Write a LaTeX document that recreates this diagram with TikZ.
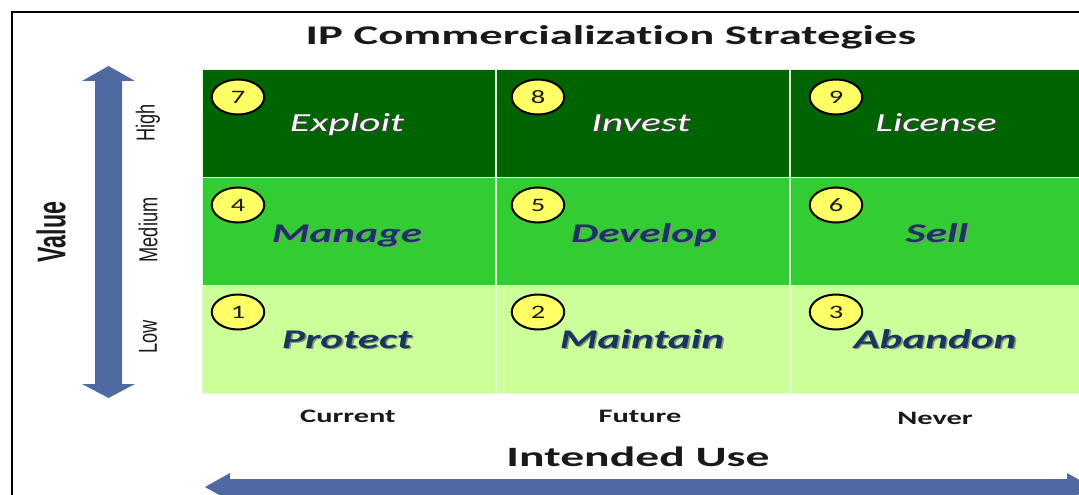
\documentclass[tikz,border=0pt]{standalone}
\usepackage{fontspec}
\setmainfont{Carlito}[Ligatures=NoCommon]
\newfontfamily\narrowfont{Liberation Sans}
\usetikzlibrary{shapes.geometric}

\definecolor{darkgrn}{RGB}{0,100,0}
\definecolor{midgrn}{RGB}{51,204,51}
\definecolor{lightgrn}{RGB}{204,255,153}
\definecolor{axisblue}{RGB}{79,106,160}
\definecolor{badgeyellow}{RGB}{255,255,102}
\definecolor{navytext}{RGB}{22,56,92}
\definecolor{ink}{RGB}{25,25,25}
\definecolor{gridline}{RGB}{225,245,215}

% text with a soft drop shadow behind it
\newcommand{\shadowed}[3]{\makebox[0pt][l]{\hspace{#2}\raisebox{-#2}{\textcolor{#1}{#3}}}#3}

\begin{document}
\begin{tikzpicture}[x=1pt,y=-1pt,
  cell/.style={rectangle, draw=gridline, line width=0.8pt, minimum width=293pt,
    minimum height=108pt, inner sep=0pt},
  badge/.style={circle, draw=black, line width=2pt, fill=badgeyellow,
    minimum size=35pt, inner sep=0pt, xscale=1.5, text=ink,
    font=\fontsize{19}{19}\selectfont},
  toplabel/.style={anchor=base, xscale=1.6, text=white,
    font=\fontsize{26}{26}\selectfont\itshape},
  lowlabel/.style={anchor=base, xscale=1.6, text=navytext,
    font=\fontsize{27}{27}\selectfont\bfseries\itshape},
  level/.style={rotate=90, text=ink, inner sep=0pt,
    font=\fontsize{26}{26}\selectfont\narrowfont},
  usage/.style={anchor=base, xscale=1.6, text=ink,
    font=\fontsize{19}{19}\selectfont\bfseries},
  heading/.style={anchor=base, text=ink, font=\fontsize{27}{27}\selectfont\bfseries}
]
\useasboundingbox (0,0) rectangle (1079,495);
\begin{scope}
\clip (0,0) rectangle (1079,495);

% outer frame
\draw[line width=2.5pt] (12,520) -- (12,12) -- (1110,12);

% title
\node[heading, xscale=1.73] (title) at (611,45) {IP Commercialization Strategies};

% value axis
\fill[axisblue] (108.5,66) -- (135,81) -- (122,81) -- (122,384) -- (135,384)
  -- (108.5,398) -- (82,384) -- (95,384) -- (95,81) -- (82,81) -- cycle;
\node[level, font=\fontsize{40}{40}\selectfont\narrowfont\bfseries] (value) at (51,232)
  {\scalebox{0.58}[1]{Value}};
\node[level] (high) at (148,123) {\scalebox{0.7}[1]{High}};
\node[level] (medium) at (148,230) {\scalebox{0.7}[1]{Medium}};
\node[level] (low) at (148,337) {\scalebox{0.7}[1]{Low}};

% strategy grid
\node[cell, fill=darkgrn]  (c7) at (348.5,123) {};
\node[cell, fill=darkgrn]  (c8) at (642.5,123) {};
\node[cell, fill=darkgrn]  (c9) at (936.5,123) {};
\node[cell, fill=midgrn]   (c4) at (348.5,231) {};
\node[cell, fill=midgrn]   (c5) at (642.5,231) {};
\node[cell, fill=midgrn]   (c6) at (936.5,231) {};
\node[cell, fill=lightgrn] (c1) at (348.5,339) {};
\node[cell, fill=lightgrn] (c2) at (642.5,339) {};
\node[cell, fill=lightgrn] (c3) at (936.5,339) {};

% strategy names
\node[toplabel] (s7) at (347,131) {\shadowed{black!75}{1.5pt}{Exploit}};
\node[toplabel] (s8) at (641,131) {\shadowed{black!75}{1.5pt}{Invest}};
\node[toplabel] (s9) at (936,131) {\shadowed{black!75}{1.5pt}{License}};
\node[lowlabel] (s4) at (347,242) {\shadowed{black!45}{1pt}{Manage}};
\node[lowlabel] (s5) at (644,242) {\shadowed{black!45}{1pt}{Develop}};
\node[lowlabel] (s6) at (937,242) {\shadowed{black!45}{1pt}{Sell}};
\node[lowlabel] (s1) at (347,348) {\shadowed{black!45}{1pt}{Protect}};
\node[lowlabel] (s2) at (642,348) {\shadowed{black!45}{1pt}{Maintain}};
\node[lowlabel] (s3) at (935,348) {\shadowed{black!45}{1pt}{Abandon}};

% numbered badges
\node[badge] (b7) at (238,97) {7};
\node[badge] (b8) at (538,97) {8};
\node[badge] (b9) at (836,97) {9};
\node[badge] (b4) at (238,205) {4};
\node[badge] (b5) at (538,205) {5};
\node[badge] (b6) at (836,205) {6};
\node[badge] (b1) at (238,312) {1};
\node[badge] (b2) at (538,312) {2};
\node[badge] (b3) at (836,312) {3};

% intended use axis
\node[usage] (current) at (348,422) {Current};
\node[usage] (future) at (640,422) {Future};
\node[usage] (never) at (935,424) {Never};
\node[heading, xscale=1.7, font=\fontsize{28}{28}\selectfont\bfseries] (use) at (638,466) {Intended Use};
\fill[axisblue] (205,487) -- (230,473) -- (230,479) -- (1067,479) -- (1067,473)
  -- (1092,487) -- (1067,501) -- (1067,495) -- (230,495) -- (230,501) -- cycle;
\end{scope}
\end{tikzpicture}
\end{document}
